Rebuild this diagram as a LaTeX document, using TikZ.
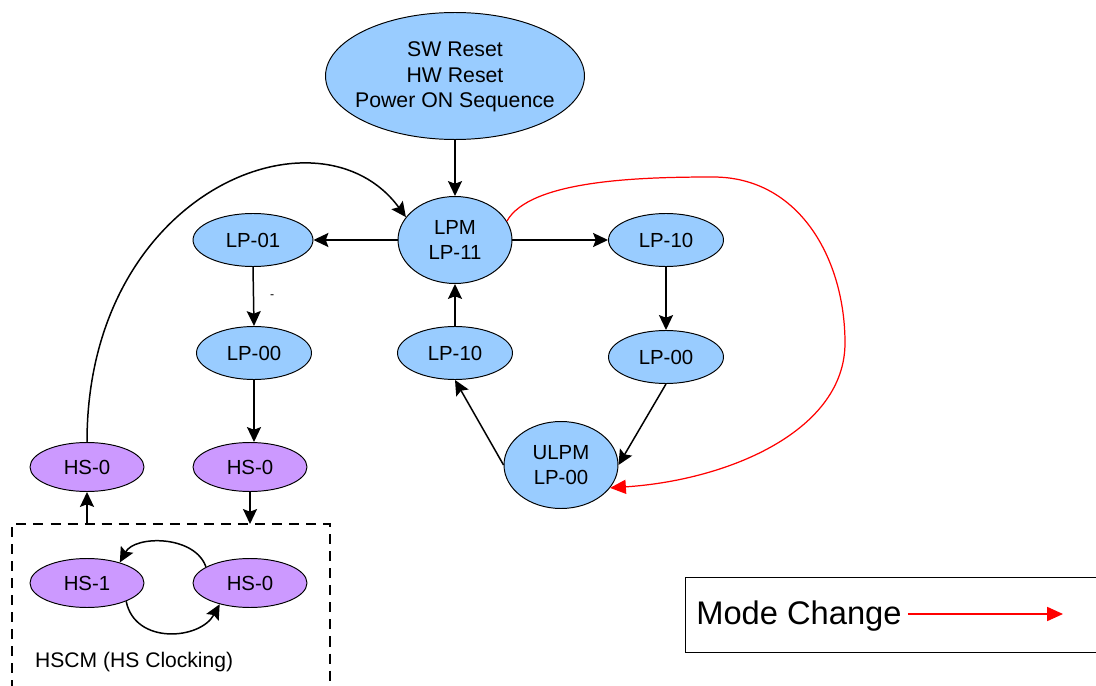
\documentclass[tikz,border=0pt]{standalone}
\usepackage{fontspec}
\setmainfont{Liberation Sans}
\usepackage{tikz}
\usetikzlibrary{arrows.meta, positioning, shapes.geometric}

\definecolor{lpblue}{RGB}{153,204,255}
\definecolor{hspurple}{RGB}{204,153,255}

\begin{document}
\begin{tikzpicture}[x=0.02cm, y=-0.02cm,
  lpnode/.style={ellipse, draw, line width=0.55pt, fill=lpblue, inner sep=0pt,
    minimum width=2.3cm, minimum height=1.06cm, font=\fontsize{11.6}{14.5}\selectfont},
  hsnode/.style={lpnode, fill=hspurple, minimum width=2.28cm, minimum height=0.98cm},
  bignode/.style={lpnode, align=center, minimum width=2.28cm, minimum height=1.74cm},
  arr/.style={-{Stealth[length=8.5pt, width=8pt, inset=1.5pt]}, line width=0.85pt},
  modearr/.style={-{Triangle[length=9pt, width=8pt]}, red, line width=0.7pt}]
  \useasboundingbox (0,0) rectangle (1096,686);

  % Reset
  \node[lpnode, minimum width=5.18cm, minimum height=2.54cm] (reset) at (455,76) {};
  \node[align=center, font=\fontsize{12.1}{14.6}\selectfont] (resettext) at (455,77)
    {SW Reset\\HW Reset\\Power ON Sequence};

  % LP modes
  \node[bignode] (lpm) at (455,240) {LPM\\LP-11};
  \node[lpnode, minimum width=2.4cm] (lp01) at (253,240) {LP-01};
  \node[lpnode] (lp00l) at (254,353) {LP-00};
  \node[lpnode] (lp10m) at (455,353) {LP-10};
  \node[lpnode] (lp10r) at (666,240) {LP-10};
  \node[lpnode] (lp00r) at (666,357) {LP-00};
  \node[bignode] (ulpm) at (561,465) {ULPM\\LP-00};

  % HS modes
  \node[hsnode] (hs0l) at (87,467) {HS-0};
  \node[hsnode] (hs0r) at (250,467) {HS-0};
  \node[hsnode] (hs1) at (87,583) {HS-1};
  \node[hsnode] (hs0c) at (250,583) {HS-0};

  % HS clocking box
  \draw[line width=0.6pt, dash pattern=on 5.7pt off 4pt] (12,690) -- (12,524) -- (330,524) -- (330,690);
  \coordinate (boxin) at (250,524);
  \coordinate (boxout) at (87,524);
  \node[anchor=base west, font=\fontsize{12}{14}\selectfont] (hscm) at (29,667) {HSCM (HS Clocking)};

  % Legend
  \draw[line width=0.55pt] (1100,577) -- (685,577) -- (685,652) -- (1100,652);
  \node[anchor=base, font=\fontsize{18.6}{22}\selectfont] (mode) at (799,624) {Mode Change};
  \coordinate (modeend) at (1063,614);
  \draw[modearr] (mode.east |- modeend) -- (modeend);

  % Transitions
  \draw[arr] (reset) -- (lpm);
  \draw[arr] (lpm) -- (lp01);
  \draw[arr] (lpm.east) -- (lp10r.west);
  \draw[arr] (lp01.south) -- node[right, xshift=0.2cm, font=\scriptsize] (dash) {-} (lp00l.north);
  \draw[arr] (lp00l.south) -- (lp00l.south |- hs0r.north);
  \draw[arr] (hs0r) -- (boxin);
  \draw[arr] (boxout) -- (hs0l);
  \draw[arr] (hs0l.north) .. controls (87,190) and (320,100) .. (lpm.155);
  \draw[arr] (lp10m) -- (lpm);
  \draw[arr] (ulpm.west) -- (lp10m.south);
  \draw[arr] (lp10r) -- (lp00r);
  \draw[arr] (lp00r.south) -- (ulpm.east);
  \draw[arr] (hs0c.160) .. controls (195,535) and (135,535) .. (hs1.32);
  \draw[arr] (hs1.-25) .. controls (135,645) and (200,640) .. (hs0c.-145);

  % Mode change
  \draw[modearr] (lpm.20) .. controls (530,180) and (640,177) .. (713,177)
    .. controls (800,177) and (845,260) .. (845,343)
    .. controls (845,430) and (730,480) .. (ulpm.-25);
\end{tikzpicture}
\end{document}
